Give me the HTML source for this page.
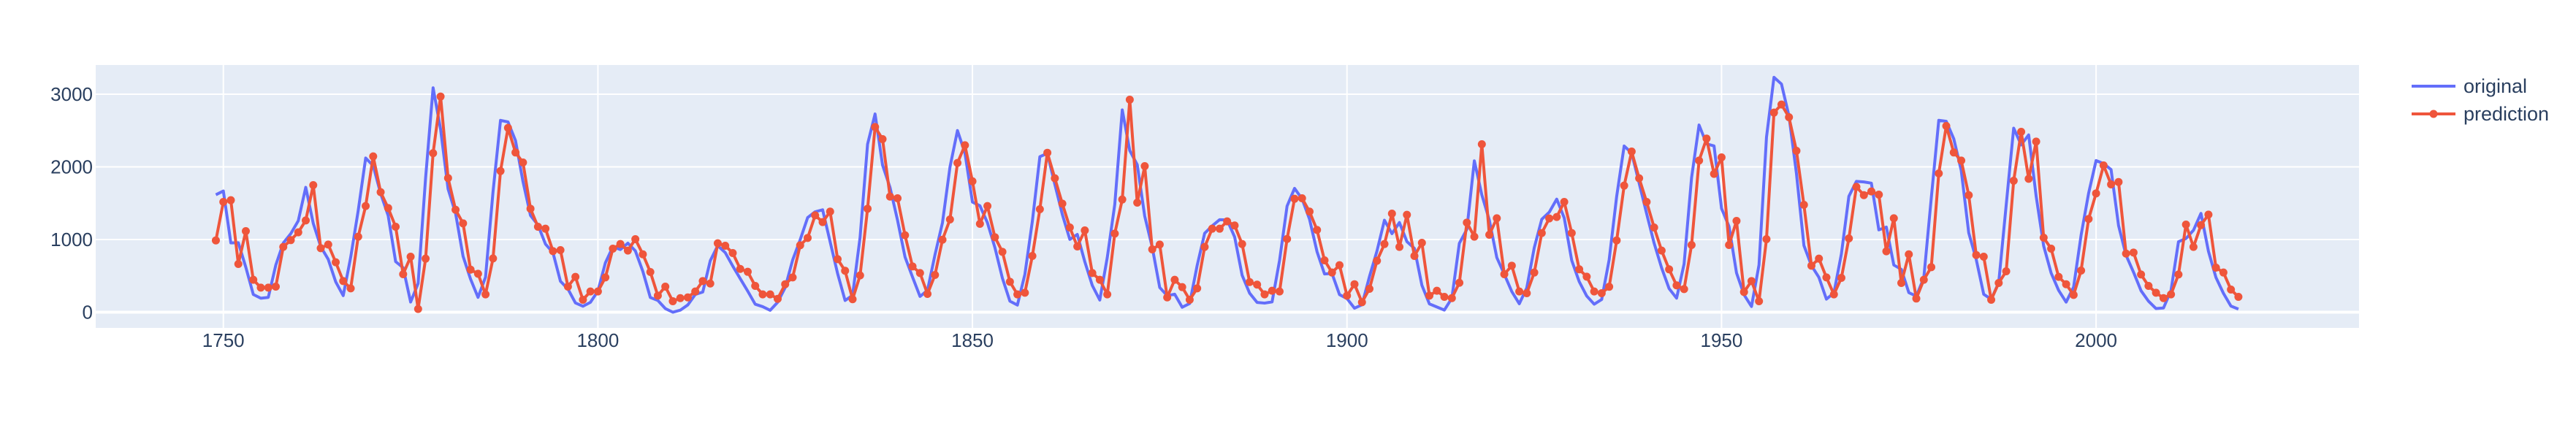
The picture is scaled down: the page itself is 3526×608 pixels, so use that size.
<!DOCTYPE html>
<html><head><meta charset="utf-8"><title>original vs prediction</title>
<style>
html,body{margin:0;padding:0;background:#fff;}
svg{display:block;font-family:"Liberation Sans",Arial,sans-serif;}
</style></head>
<body>
<svg id="chart" width="3526" height="608" viewBox="0 0 3526 608" xmlns="http://www.w3.org/2000/svg">
  <rect x="131" y="89" width="3098" height="360" fill="#E5ECF6"/>
  <g id="grid"></g>
  <g id="xticks"></g>
  <g id="yticks"></g>
  <g id="series"></g>
  <g>
    <g>
      <line x1="3301" y1="118" x2="3361" y2="118" stroke="#636EFA" stroke-width="4"/>
      <text x="3372" y="127" font-size="27" fill="#2a3f5f">original</text>
    </g>
    <g>
      <line x1="3301" y1="156" x2="3361" y2="156" stroke="#EF553B" stroke-width="4"/>
      <circle cx="3331" cy="156" r="5.5" fill="#EF553B"/>
      <text x="3372" y="165" font-size="27" fill="#2a3f5f">prediction</text>
    </g>
  </g>
</svg>
<script>
const startYear = 1749;
const original = [1616,1668,954,956,618,244,192,204,648,952,1080,1258,1718,1224,902,728,418,228,756,1396,2122,2016,1632,1330,696,612,140,396,1850,3088,2518,1696,1362,770,456,204,482,1658,2640,2618,2362,1798,1332,1200,938,820,426,320,128,82,136,290,680,900,862,950,844,562,202,162,50,0,28,100,244,278,708,916,820,635,462,290,110,76,26,137,338,719,996,1302,1382,1409,970,532,161,234,1030,2312,2728,2024,1716,1266,760,484,217,301,790,1232,1996,2500,2190,1516,1464,1232,889,468,152,98,521,1253,2140,2186,1759,1345,1002,1070,694,368,167,754,1483,2784,2224,2030,1321,894,340,227,248,68,120,644,1086,1188,1273,1270,1036,509,262,134,125,142,714,1460,1704,1560,1279,833,526,533,242,188,55,102,490,841,1266,1081,1234,971,878,371,114,72,29,193,948,1140,2083,1615,1268,752,522,284,116,335,888,1278,1376,1556,1298,713,421,223,110,175,722,1594,2287,2191,1776,1356,950,610,325,193,664,1852,2576,2316,2288,1427,1180,540,241,79,650,2408,3232,3140,2701,1908,917,641,479,180,264,802,1595,1800,1793,1776,1133,1171,649,590,270,221,472,1572,2641,2627,2387,1949,1092,726,247,178,407,1476,2533,2302,2440,1596,913,539,301,139,347,1060,1636,2087,2045,1963,1192,784,550,296,151,50,58,299,970,1014,1128,1360,838,478,260,84,43];
const prediction = [988,1518,1541,663,1116,446,338,338,352,898,992,1099,1263,1749,881,931,687,429,328,1039,1461,2144,1652,1434,1176,523,764,44,737,2188,2968,1846,1410,1223,586,529,245,740,1943,2536,2198,2060,1424,1176,1149,841,854,352,486,171,285,285,479,874,938,848,1005,797,553,228,352,151,194,204,285,429,395,948,915,814,596,556,362,245,245,184,385,479,921,1022,1333,1240,1384,730,570,178,506,1424,2549,2382,1591,1568,1059,630,539,251,513,998,1276,2054,2298,1802,1216,1461,1032,831,419,245,268,774,1417,2194,1843,1494,1166,905,1126,539,446,245,1082,1551,2925,1508,2010,864,931,204,446,345,171,328,898,1149,1149,1250,1193,938,415,379,245,295,285,1008,1561,1568,1384,1132,714,546,647,228,385,137,322,707,938,1357,898,1340,774,955,228,295,211,194,405,1233,1039,2312,1065,1293,523,640,285,261,546,1089,1290,1310,1518,1089,590,489,285,261,350,988,1742,2211,1843,1518,1166,848,590,369,318,925,2087,2389,1903,2131,925,1256,278,429,151,1005,2747,2858,2683,2221,1477,640,737,479,245,472,1015,1725,1611,1662,1618,838,1293,402,797,188,446,620,1910,2563,2198,2087,1611,787,764,171,402,563,1809,2482,1836,2348,1025,874,486,385,238,573,1283,1635,2020,1759,1792,807,821,519,362,268,194,245,519,1206,898,1199,1343,613,546,312,211];
const xTickValues = [1750,1800,1850,1900,1950,2000];
const xTickLabels = ["1750","1800","1850","1900","1950","2000"];
const yTickValues = [0,1000,2000,3000];
const yTickLabels = ["0","1000","2000","3000"];

const NS = "http://www.w3.org/2000/svg";
const plot = {left:131, right:3229, top:89, bottom:449};
const xMin = 1732.96, xMax = 2035.1, yMin = -216, yMax = 3402;
function xScale(v){ return plot.left + (v - xMin) / (xMax - xMin) * (plot.right - plot.left); }
function yScale(v){ return plot.bottom - (v - yMin) / (yMax - yMin) * (plot.bottom - plot.top); }
function mk(tag, attrs){ const e = document.createElementNS(NS, tag); for (const k in attrs) e.setAttribute(k, attrs[k]); return e; }

const grid = document.getElementById('grid');
const xt = document.getElementById('xticks');
const yt = document.getElementById('yticks');
xTickValues.forEach((v, i) => {
  const x = xScale(v);
  const gl = mk('line', {x1:x, x2:x, y1:plot.top, y2:plot.bottom, stroke:'#fff', 'stroke-width':2});
  
  
  grid.appendChild(gl);
  const t = mk('text', {x:x, y:475, 'text-anchor':'middle', 'font-size':26, fill:'#2a3f5f'});
  t.textContent = xTickLabels[i];
  
  
  xt.appendChild(t);
});
yTickValues.forEach((v, i) => {
  const y = yScale(v);
  const gl = mk('line', {x1:plot.left, x2:plot.right, y1:y, y2:y, stroke:'#fff', 'stroke-width': v === 0 ? 4 : 2});
  
  
  grid.appendChild(gl);
  const t = mk('text', {x:127, y:y + 9, 'text-anchor':'end', 'font-size':26, fill:'#2a3f5f'});
  t.textContent = yTickLabels[i];
  
  
  yt.appendChild(t);
});

const series = document.getElementById('series');
function pts(arr){ return arr.map((v, i) => xScale(startYear + i).toFixed(2) + ',' + yScale(v).toFixed(2)).join(' '); }
const lo = mk('polyline', {points:pts(original), fill:'none', stroke:'#636EFA', 'stroke-width':4, 'stroke-linejoin':'round'});


series.appendChild(lo);
const lp = mk('polyline', {points:pts(prediction), fill:'none', stroke:'#EF553B', 'stroke-width':4, 'stroke-linejoin':'round'});


series.appendChild(lp);
const mg = mk('g', {});


series.appendChild(mg);
prediction.forEach((v, i) => {
  const c = mk('circle', {cx:xScale(startYear + i), cy:yScale(v), r:5.5, fill:'#EF553B'});
  
  
  mg.appendChild(c);
});
</script>
</body></html>
